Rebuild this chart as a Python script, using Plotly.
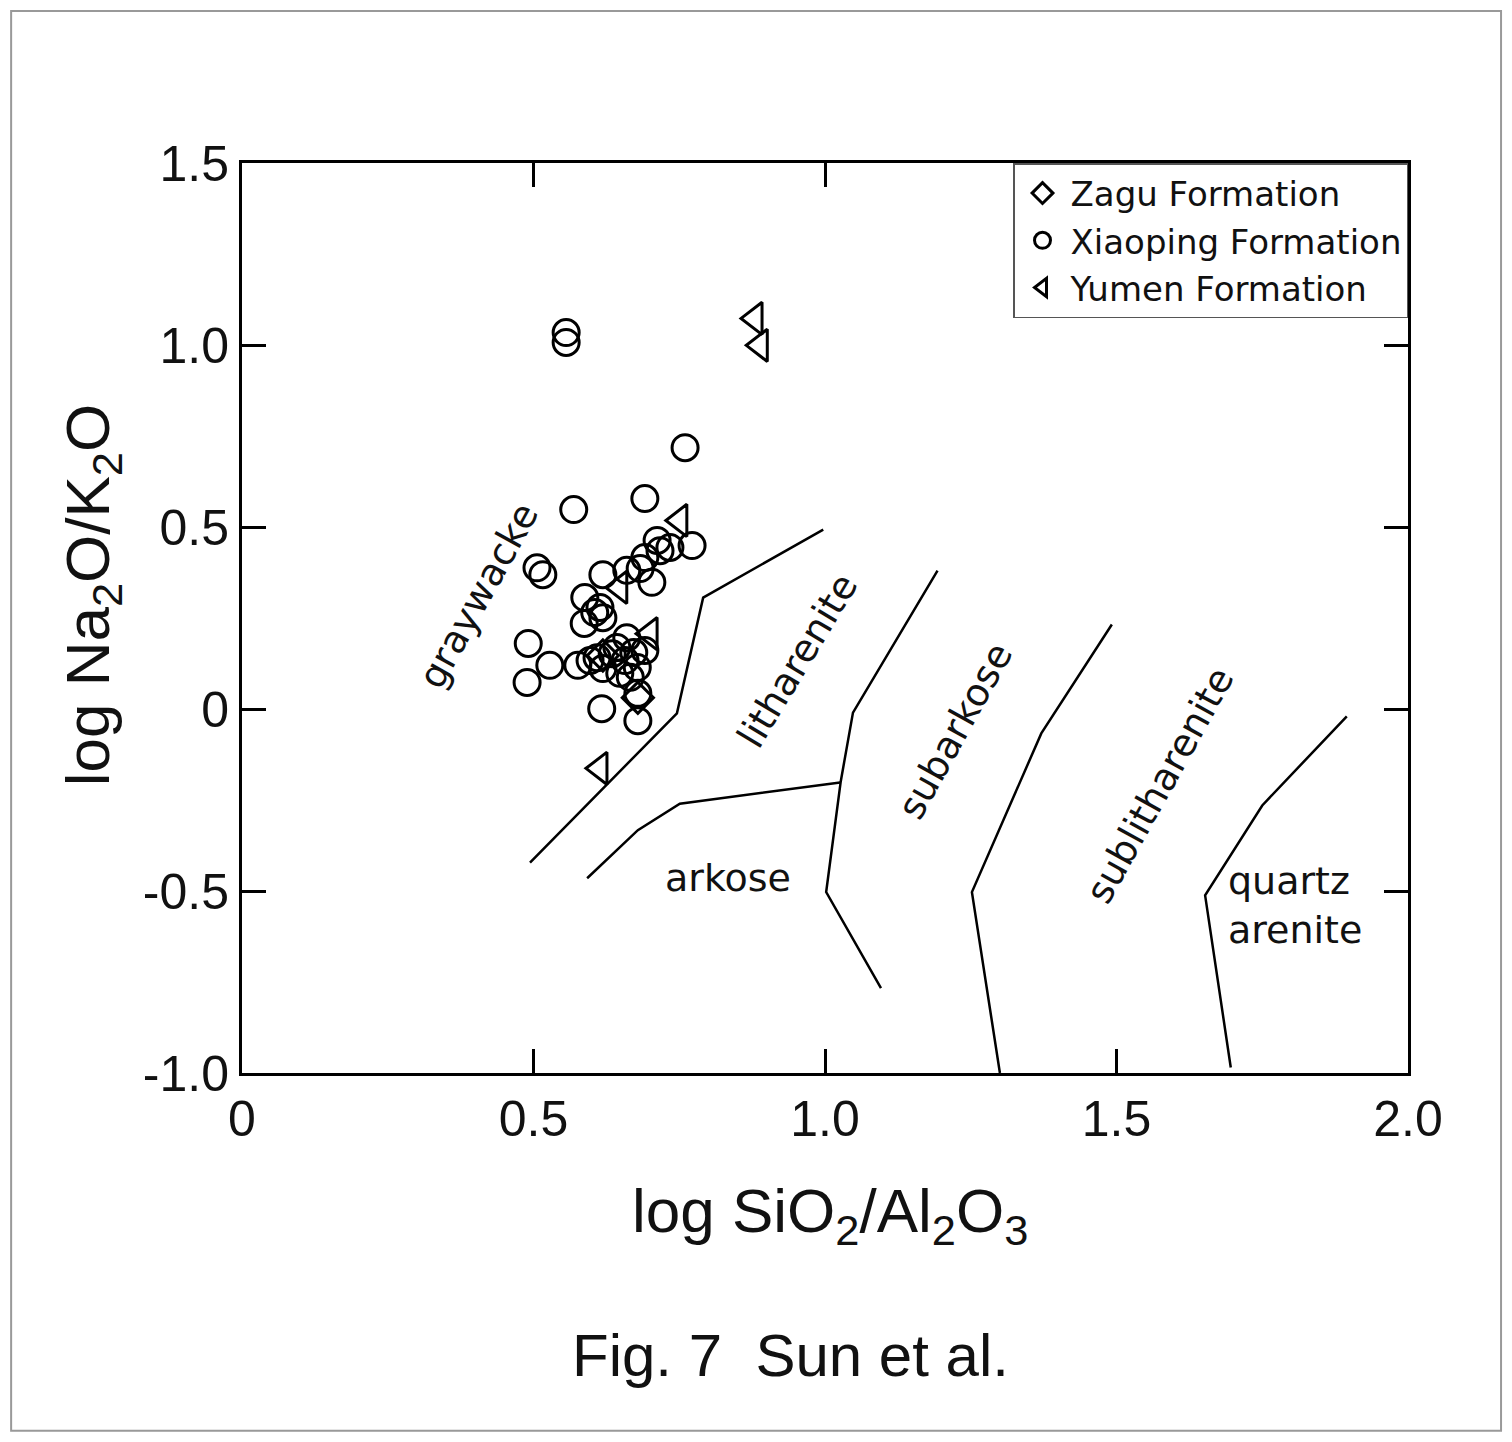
import plotly.graph_objects as go

# Sample compositions: log(SiO2/Al2O3) vs log(Na2O/K2O)
zagu_x = [0.679, 0.619]
zagu_y = [0.031, 0.147]

xiaoping_x = [0.556, 0.556, 0.760, 0.569, 0.691, 0.712, 0.734, 0.772, 0.506, 0.516,
              0.619, 0.660, 0.683, 0.703, 0.588, 0.605, 0.619, 0.587, 0.614, 0.491,
              0.528, 0.489, 0.576, 0.609, 0.619, 0.643, 0.660, 0.672, 0.691, 0.648,
              0.678, 0.617, 0.679, 0.679, 0.635, 0.657, 0.597, 0.691, 0.717, 0.666]
xiaoping_y = [1.034, 1.007, 0.718, 0.548, 0.578, 0.463, 0.444, 0.449, 0.388, 0.369,
              0.369, 0.381, 0.386, 0.348, 0.306, 0.265, 0.251, 0.235, 0.279, 0.180,
              0.120, 0.073, 0.120, 0.141, 0.111, 0.169, 0.196, 0.155, 0.161, 0.098,
              0.114, 0.001, 0.043, -0.032, 0.152, 0.133, 0.133, 0.416, 0.435, 0.087]

yumen_x = [0.880, 0.889, 0.751, 0.648, 0.700, 0.614]
yumen_y = [1.073, 0.999, 0.518, 0.334, 0.207, -0.163]

# Classification field boundaries
graywacke_bx = [0.494, 0.746, 0.791, 0.997]
graywacke_by = [-0.422, -0.012, 0.306, 0.493]

arkose_bx = [0.592, 0.679, 0.751, 1.026]
arkose_by = [-0.465, -0.333, -0.260, -0.202]

subarkose_bx = [1.193, 1.048, 1.027, 1.002, 1.096]
subarkose_by = [0.380, -0.010, -0.199, -0.503, -0.767]

sublith_bx = [1.492, 1.371, 1.252, 1.300]
sublith_by = [0.232, -0.067, -0.503, -1.0]

quartz_bx = [1.895, 1.750, 1.652, 1.696]
quartz_by = [-0.020, -0.265, -0.512, -0.985]

boundaries = [(graywacke_bx, graywacke_by), (arkose_bx, arkose_by),
              (subarkose_bx, subarkose_by), (sublith_bx, sublith_by),
              (quartz_bx, quartz_by)]

# Field names: (text, x, y, angle)
field_labels = [
    ("graywacke", 0.405, 0.311, -61),
    ("litharenite", 0.952, 0.133, -59),
    ("subarkose", 1.223, -0.060, -61),
    ("sublitharenite", 1.575, -0.210, -61),
    ("arkose", 0.834, -0.465, 0),
]

x_ticks = [0, 0.5, 1.0, 1.5, 2.0]
x_ticktext = ["0", "0.5", "1.0", "1.5", "2.0"]
y_ticks = [-1.0, -0.5, 0, 0.5, 1.0, 1.5]
y_ticktext = ["-1.0", "-0.5", "0", "0.5", "1.0", "1.5"]

ARIAL = "Liberation Sans, Arial, sans-serif"
DEJAVU = "DejaVu Sans, sans-serif"

fig = go.Figure()

for bx, by in boundaries:
    fig.add_trace(go.Scatter(x=bx, y=by, mode="lines",
                             line=dict(color="black", width=2.5),
                             showlegend=False, hoverinfo="skip"))

marker_line = dict(color="black", width=3)
fig.add_trace(go.Scatter(x=zagu_x, y=zagu_y, mode="markers", name="Zagu Formation",
                         marker=dict(symbol="diamond-open", size=24, color="black",
                                     line=marker_line)))
fig.add_trace(go.Scatter(x=xiaoping_x, y=xiaoping_y, mode="markers", name="Xiaoping Formation",
                         marker=dict(symbol="circle-open", size=26, color="black",
                                     line=marker_line)))
fig.add_trace(go.Scatter(x=yumen_x, y=yumen_y, mode="markers", name="Yumen Formation",
                         marker=dict(symbol="triangle-left-open", size=28, color="black",
                                     line=marker_line)))

for text, lx, ly, ang in field_labels:
    fig.add_annotation(x=lx, y=ly, text=text, textangle=ang, showarrow=False,
                       font=dict(family=DEJAVU, size=38, color="#111"))

fig.add_annotation(x=1.688, y=-0.54, text="quartz<br>arenite", showarrow=False,
                   xanchor="left", yanchor="middle", align="left",
                   font=dict(family=DEJAVU, size=38, color="#111"))

# Axis titles and caption
fig.add_annotation(xref="paper", yref="paper", x=-0.1286, y=0.525,
                   xanchor="center", yanchor="middle",
                   text="log Na<sub>2</sub>O/K<sub>2</sub>O", textangle=-90,
                   showarrow=False, font=dict(family=ARIAL, size=62, color="#111"))
fig.add_annotation(xref="paper", yref="paper", x=0.504, y=-0.156,
                   xanchor="center", yanchor="middle",
                   text="log SiO<sub>2</sub>/Al<sub>2</sub>O<sub>3</sub>",
                   showarrow=False, font=dict(family=ARIAL, size=62, color="#111"))
fig.add_annotation(xref="paper", yref="paper", x=0.470, y=-0.310,
                   xanchor="center", yanchor="middle",
                   text="Fig. 7  Sun et al.",
                   showarrow=False, font=dict(family=ARIAL, size=60, color="#111"))

# Outer frame of the figure
fig.add_shape(type="rect", xref="paper", yref="paper",
              x0=-0.198, x1=1.0798, y0=-0.393, y1=1.167,
              line=dict(color="#999", width=2), fillcolor="rgba(0,0,0,0)")

axis_common = dict(showline=True, linewidth=3, linecolor="black", mirror="ticks",
                   ticks="inside", ticklen=24, tickwidth=3, tickcolor="black",
                   showgrid=False, zeroline=False,
                   tickfont=dict(family=ARIAL, size=50, color="#111"))

fig.update_xaxes(range=[0, 2], tickvals=x_ticks, ticktext=x_ticktext, **axis_common)
fig.update_yaxes(range=[-1, 1.5], tickvals=y_ticks, ticktext=y_ticktext, **axis_common)

fig.update_layout(
    width=1512, height=1442,
    margin=dict(l=242, r=104, t=163, b=369),
    paper_bgcolor="white", plot_bgcolor="white",
    showlegend=True,
    legend=dict(x=1, y=1, xanchor="right", yanchor="top",
                bgcolor="white", bordercolor="#555", borderwidth=1.5,
                font=dict(family=DEJAVU, size=34, color="#111"),
                itemwidth=46, tracegroupgap=0),
)

fig.write_html("out.html")
